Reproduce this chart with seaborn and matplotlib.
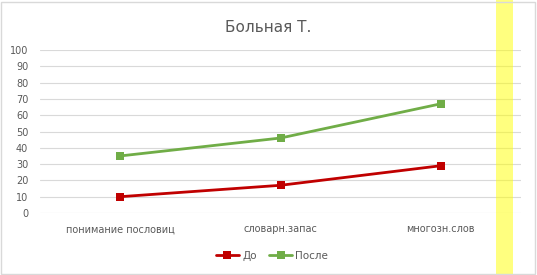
import matplotlib
matplotlib.use("Agg")
import matplotlib.pyplot as plt
import seaborn as sns
import pandas as pd
from matplotlib.patches import Rectangle
from matplotlib.lines import Line2D

categories = ["понимание пословиц", "словарн.запас", "многозн.слов"]
series_names = ["До", "После"]
before = [10, 17, 29]
after = [35, 46, 67]
yticks = [0, 10, 20, 30, 40, 50, 60, 70, 80, 90, 100]

df = pd.DataFrame({
    "cat": list(range(len(categories))) * 2,
    "value": before + after,
    "series": [series_names[0]] * 3 + [series_names[1]] * 3,
})

sns.set_theme(style="white")
plt.rcParams["font.family"] = ["DejaVu Sans"]

fig = plt.figure(figsize=(5.37, 2.75), dpi=100)
ax = fig.add_axes([40/537, 1 - 213/275, (521-40)/537, (213-50)/275])

palette = {"До": "#C00000", "После": "#70AD47"}
sns.lineplot(data=df, x="cat", y="value", hue="series", palette=palette,
             marker="s", markersize=6, markeredgewidth=0, linewidth=2.0,
             ax=ax, legend=False)

ax.set_xlim(-0.5, 2.5)
ax.set_ylim(0, 100)
ax.set_yticks(yticks)
ax.set_yticklabels([str(t) for t in yticks], fontsize=7, color="#595959")
ax.set_xticks(range(len(categories)))
ax.set_xticklabels(categories, fontsize=7, color="#595959")
ax.tick_params(axis="x", length=0, pad=8)
ax.tick_params(axis="y", length=0, pad=8.5)
ax.grid(axis="y", color="#D9D9D9", linewidth=0.8)
ax.set_axisbelow(True)
for s in ax.spines.values():
    s.set_visible(False)
ax.set_xlabel("")
ax.set_ylabel("")

fig.text(268/537, 1 - 27/275, "Больная Т.", ha="center", va="center",
         fontsize=11, color="#595959")

handles = [Line2D([], [], color=palette[n], marker="s", markersize=6,
                  markeredgewidth=0, linewidth=2.0) for n in series_names]
fig.legend(handles, series_names, loc="center", bbox_to_anchor=(272/537, 1 - 256/275),
           ncol=2, frameon=False, fontsize=7.5, labelcolor="#595959",
           handlelength=2.2, columnspacing=1.2, handletextpad=0.3)

# yellow highlight band
fig.add_artist(Rectangle((496/537, 0), 17/537, 1, transform=fig.transFigure,
                         facecolor="#FFFF00", alpha=0.5, edgecolor="none", zorder=5))
# chart border
fig.add_artist(Rectangle((1/537, 1/275), 534/537, 272/275, transform=fig.transFigure,
                         facecolor="none", edgecolor="#D9D9D9", linewidth=1.0, zorder=6))

fig.savefig("out.png", dpi=100)
